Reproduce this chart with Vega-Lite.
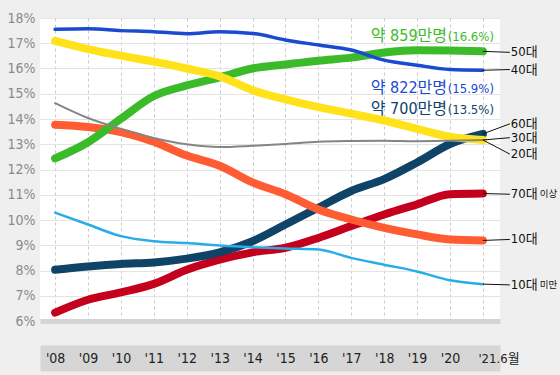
{
  "$schema": "https://vega.github.io/schema/vega-lite/v6.json",
  "width": 460,
  "height": 303,
  "autosize": {"type": "none"},
  "padding": {"left": 40, "top": 18, "right": 60, "bottom": 54},
  "background": "#efefef",
  "config": {
    "view": {"fill": "white", "stroke": null},
    "font": "DejaVu Sans Condensed, Noto Sans CJK KR",
    "axisY": {"tickCount": 13, "labelOverlap": false, "labelExpr": "datum.value + '%'", "labelPadding": 5, "labelFontSize": 14, "labelColor": "#8a8a8a", "domain": false, "ticks": false, "title": null}
  },
  "datasets": {
    "series": [
      {"group": "70대 이상", "year": 2008, "share": 6.33}, {"group": "70대 이상", "year": 2009, "share": 6.84}, {"group": "70대 이상", "year": 2010, "share": 7.13}, {"group": "70대 이상", "year": 2011, "share": 7.47}, {"group": "70대 이상", "year": 2012, "share": 8.03}, {"group": "70대 이상", "year": 2013, "share": 8.43}, {"group": "70대 이상", "year": 2014, "share": 8.72}, {"group": "70대 이상", "year": 2015, "share": 8.9}, {"group": "70대 이상", "year": 2016, "share": 9.29}, {"group": "70대 이상", "year": 2017, "share": 9.76}, {"group": "70대 이상", "year": 2018, "share": 10.22}, {"group": "70대 이상", "year": 2019, "share": 10.62}, {"group": "70대 이상", "year": 2020, "share": 11.02}, {"group": "70대 이상", "year": 2021, "share": 11.05},
      {"group": "60대", "year": 2008, "share": 8.03}, {"group": "60대", "year": 2009, "share": 8.16}, {"group": "60대", "year": 2010, "share": 8.26}, {"group": "60대", "year": 2011, "share": 8.32}, {"group": "60대", "year": 2012, "share": 8.47}, {"group": "60대", "year": 2013, "share": 8.72}, {"group": "60대", "year": 2014, "share": 9.16}, {"group": "60대", "year": 2015, "share": 9.82}, {"group": "60대", "year": 2016, "share": 10.49}, {"group": "60대", "year": 2017, "share": 11.15}, {"group": "60대", "year": 2018, "share": 11.62}, {"group": "60대", "year": 2019, "share": 12.28}, {"group": "60대", "year": 2020, "share": 13.01}, {"group": "60대", "year": 2021, "share": 13.41},
      {"group": "10대", "year": 2008, "share": 13.77}, {"group": "10대", "year": 2009, "share": 13.68}, {"group": "10대", "year": 2010, "share": 13.48}, {"group": "10대", "year": 2011, "share": 13.1}, {"group": "10대", "year": 2012, "share": 12.55}, {"group": "10대", "year": 2013, "share": 12.15}, {"group": "10대", "year": 2014, "share": 11.49}, {"group": "10대", "year": 2015, "share": 11.02}, {"group": "10대", "year": 2016, "share": 10.42}, {"group": "10대", "year": 2017, "share": 10.02}, {"group": "10대", "year": 2018, "share": 9.69}, {"group": "10대", "year": 2019, "share": 9.43}, {"group": "10대", "year": 2020, "share": 9.23}, {"group": "10대", "year": 2021, "share": 9.19},
      {"group": "50대", "year": 2008, "share": 12.44}, {"group": "50대", "year": 2009, "share": 13.08}, {"group": "50대", "year": 2010, "share": 14.01}, {"group": "50대", "year": 2011, "share": 14.91}, {"group": "50대", "year": 2012, "share": 15.33}, {"group": "50대", "year": 2013, "share": 15.65}, {"group": "50대", "year": 2014, "share": 16.0}, {"group": "50대", "year": 2015, "share": 16.16}, {"group": "50대", "year": 2016, "share": 16.31}, {"group": "50대", "year": 2017, "share": 16.43}, {"group": "50대", "year": 2018, "share": 16.63}, {"group": "50대", "year": 2019, "share": 16.72}, {"group": "50대", "year": 2020, "share": 16.71}, {"group": "50대", "year": 2021, "share": 16.68},
      {"group": "30대", "year": 2008, "share": 17.09}, {"group": "30대", "year": 2009, "share": 16.77}, {"group": "30대", "year": 2010, "share": 16.51}, {"group": "30대", "year": 2011, "share": 16.27}, {"group": "30대", "year": 2012, "share": 16.0}, {"group": "30대", "year": 2013, "share": 15.69}, {"group": "30대", "year": 2014, "share": 15.14}, {"group": "30대", "year": 2015, "share": 14.78}, {"group": "30대", "year": 2016, "share": 14.47}, {"group": "30대", "year": 2017, "share": 14.21}, {"group": "30대", "year": 2018, "share": 13.94}, {"group": "30대", "year": 2019, "share": 13.61}, {"group": "30대", "year": 2020, "share": 13.3}, {"group": "30대", "year": 2021, "share": 13.17},
      {"group": "20대", "year": 2008, "share": 14.63}, {"group": "20대", "year": 2009, "share": 14.04}, {"group": "20대", "year": 2010, "share": 13.61}, {"group": "20대", "year": 2011, "share": 13.25}, {"group": "20대", "year": 2012, "share": 13.0}, {"group": "20대", "year": 2013, "share": 12.89}, {"group": "20대", "year": 2014, "share": 12.94}, {"group": "20대", "year": 2015, "share": 13.01}, {"group": "20대", "year": 2016, "share": 13.1}, {"group": "20대", "year": 2017, "share": 13.13}, {"group": "20대", "year": 2018, "share": 13.14}, {"group": "20대", "year": 2019, "share": 13.12}, {"group": "20대", "year": 2020, "share": 13.14}, {"group": "20대", "year": 2021, "share": 13.17},
      {"group": "40대", "year": 2008, "share": 17.55}, {"group": "40대", "year": 2009, "share": 17.57}, {"group": "40대", "year": 2010, "share": 17.5}, {"group": "40대", "year": 2011, "share": 17.46}, {"group": "40대", "year": 2012, "share": 17.38}, {"group": "40대", "year": 2013, "share": 17.46}, {"group": "40대", "year": 2014, "share": 17.39}, {"group": "40대", "year": 2015, "share": 17.13}, {"group": "40대", "year": 2016, "share": 16.93}, {"group": "40대", "year": 2017, "share": 16.73}, {"group": "40대", "year": 2018, "share": 16.33}, {"group": "40대", "year": 2019, "share": 16.13}, {"group": "40대", "year": 2020, "share": 15.96}, {"group": "40대", "year": 2021, "share": 15.93},
      {"group": "10대 미만", "year": 2008, "share": 10.29}, {"group": "10대 미만", "year": 2009, "share": 9.82}, {"group": "10대 미만", "year": 2010, "share": 9.36}, {"group": "10대 미만", "year": 2011, "share": 9.16}, {"group": "10대 미만", "year": 2012, "share": 9.09}, {"group": "10대 미만", "year": 2013, "share": 8.99}, {"group": "10대 미만", "year": 2014, "share": 8.92}, {"group": "10대 미만", "year": 2015, "share": 8.87}, {"group": "10대 미만", "year": 2016, "share": 8.83}, {"group": "10대 미만", "year": 2017, "share": 8.5}, {"group": "10대 미만", "year": 2018, "share": 8.23}, {"group": "10대 미만", "year": 2019, "share": 7.96}, {"group": "10대 미만", "year": 2020, "share": 7.61}, {"group": "10대 미만", "year": 2021, "share": 7.46}
    ],
    "labels": [
      {"group": "50대", "tag": "50대", "suffix": "", "year": 2021, "endShare": 16.68, "labelShare": 16.64},
      {"group": "40대", "tag": "40대", "suffix": "", "year": 2021, "endShare": 15.93, "labelShare": 15.96},
      {"group": "60대", "tag": "60대", "suffix": "", "year": 2021, "endShare": 13.41, "labelShare": 13.81},
      {"group": "30대", "tag": "30대", "suffix": "", "year": 2021, "endShare": 13.17, "labelShare": 13.26},
      {"group": "20대", "tag": "20대", "suffix": "", "year": 2021, "endShare": 13.17, "labelShare": 12.61},
      {"group": "70대 이상", "tag": "70대", "suffix": "이상", "year": 2021, "endShare": 11.05, "labelShare": 11.02},
      {"group": "10대", "tag": "10대", "suffix": "", "year": 2021, "endShare": 9.19, "labelShare": 9.23},
      {"group": "10대 미만", "tag": "10대", "suffix": "미만", "year": 2021, "endShare": 7.46, "labelShare": 7.43}
    ],
    "notes": [
      {"group": "50대", "main": "약 859만명", "pct": "(16.6%)", "at": 17.3},
      {"group": "40대", "main": "약 822만명", "pct": "(15.9%)", "at": 15.24},
      {"group": "60대", "main": "약 700만명", "pct": "(13.5%)", "at": 14.38}
    ]
  },
  "resolve": {"axis": {"x": "independent"}},
  "layer": [
    {
      "data": {"name": "series"},
      "mark": {"type": "line", "interpolate": "monotone", "strokeCap": "round", "strokeJoin": "round"},
      "encoding": {
        "x": {
          "field": "year", "type": "quantitative",
          "scale": {"domain": [2007.54, 2021.52], "nice": false, "zero": false},
          "axis": {
            "orient": "bottom", "tickCount": 14,
            "values": [2008, 2009, 2010, 2011, 2012, 2013, 2014, 2015, 2016, 2017, 2018, 2019, 2020, 2021],
            "title": null, "labels": true, "labelExpr": "''", "grid": true, "gridDash": [3, 3], "gridColor": "#cacaca",
            "ticks": false, "domain": true, "domainColor": "#d6d6d6", "domainWidth": 26, "offset": 37
          }
        },
        "y": {
          "field": "share", "type": "quantitative",
          "scale": {"domain": [6, 18], "nice": false, "zero": false},
          "axis": {
            "tickCount": 13,
            "values": [6, 7, 8, 9, 10, 11, 12, 13, 14, 15, 16, 17, 18],
            "labelExpr": "datum.value + '%'",
            "title": null, "domain": false, "ticks": false, "labelPadding": 5, "labelOverlap": false,
            "labelFontSize": 14, "labelColor": "#8a8a8a",
            "gridColor": {"condition": {"test": "datum.value == 6", "value": "#d4d4d4"}, "value": "#e4e4e4"},
            "gridWidth": {"condition": {"test": "datum.value == 6", "value": 5}, "value": 1}
          }
        },
        "color": {
          "field": "group", "type": "nominal", "legend": null,
          "scale": {
            "domain": ["70대 이상", "60대", "10대", "50대", "30대", "20대", "40대", "10대 미만"],
            "range": ["#c4001c", "#0f4468", "#ff5c33", "#3cbb2a", "#ffe21a", "#858585", "#1a4ad2", "#29ade8"]
          }
        },
        "strokeWidth": {
          "field": "group", "type": "nominal", "legend": null,
          "scale": {
            "type": "ordinal",
            "domain": ["70대 이상", "60대", "10대", "50대", "30대", "20대", "40대", "10대 미만"],
            "range": [8, 8, 8, 8, 8, 2, 3.5, 2.5]
          }
        }
      }
    },
    {
      "data": {"name": "labels"},
      "mark": {"type": "rule", "color": "#111111", "strokeWidth": 1},
      "encoding": {
        "x": {
          "field": "year", "type": "quantitative",
          "scale": {"domain": [2007.54, 2021.52], "nice": false, "zero": false},
          "axis": {
            "orient": "bottom", "tickCount": 14,
            "values": [2008, 2009, 2010, 2011, 2012, 2013, 2014, 2015, 2016, 2017, 2018, 2019, 2020, 2021],
            "labelExpr": "datum.value == 2021 ? \"'21.6월\" : \"'\" + substring(toString(datum.value), 2)",
            "title": null, "grid": false, "ticks": false, "domain": false,
            "offset": 37, "labelPadding": 0, "labelBaseline": "middle",
            "labelFontSize": {"condition": {"test": "datum.value == 2021", "value": 13}, "value": 14},
            "labelAlign": {"condition": {"test": "datum.value == 2021", "value": "left"}, "value": "center"},
            "labelOffset": {"condition": {"test": "datum.value == 2021", "value": -5}, "value": 0},
            "labelColor": "#222222", "labelOverlap": false, "labelFlush": false
          }
        },
        "x2": {"datum": 2021.82},
        "y": {"field": "endShare", "type": "quantitative"},
        "y2": {"field": "labelShare"}
      }
    },
    {
      "data": {"name": "labels"},
      "mark": {"type": "text", "align": "left", "baseline": "middle", "fontSize": 13, "color": "#111111"},
      "encoding": {
        "x": {"datum": 2021.85, "type": "quantitative", "axis": null},
        "y": {"field": "labelShare", "type": "quantitative"},
        "text": {"field": "tag"}
      }
    },
    {
      "data": {"name": "labels"},
      "mark": {"type": "text", "align": "left", "baseline": "middle", "fontSize": 9.5, "dx": 29, "color": "#111111"},
      "encoding": {
        "x": {"datum": 2021.85, "type": "quantitative", "axis": null},
        "y": {"field": "labelShare", "type": "quantitative"},
        "text": {"field": "suffix"}
      }
    },
    {
      "data": {"name": "notes"},
      "mark": {"type": "text", "align": "right", "baseline": "middle", "fontSize": 16},
      "encoding": {
        "x": {"datum": 2019.91, "type": "quantitative", "axis": null},
        "y": {"field": "at", "type": "quantitative"},
        "text": {"field": "main"},
        "color": {"field": "group", "type": "nominal", "legend": null, "scale": {"domain": ["50대", "40대", "60대"], "range": ["#4cb83c", "#1f4fd0", "#2c4658"]}}
      }
    },
    {
      "data": {"name": "notes"},
      "mark": {"type": "text", "align": "left", "baseline": "middle", "fontSize": 13, "dy": 1},
      "encoding": {
        "x": {"datum": 2019.93, "type": "quantitative", "axis": null},
        "y": {"field": "at", "type": "quantitative"},
        "text": {"field": "pct"},
        "color": {"field": "group", "type": "nominal", "legend": null, "scale": {"domain": ["50대", "40대", "60대"], "range": ["#4cb83c", "#1f4fd0", "#2c4658"]}}
      }
    }
  ]
}
